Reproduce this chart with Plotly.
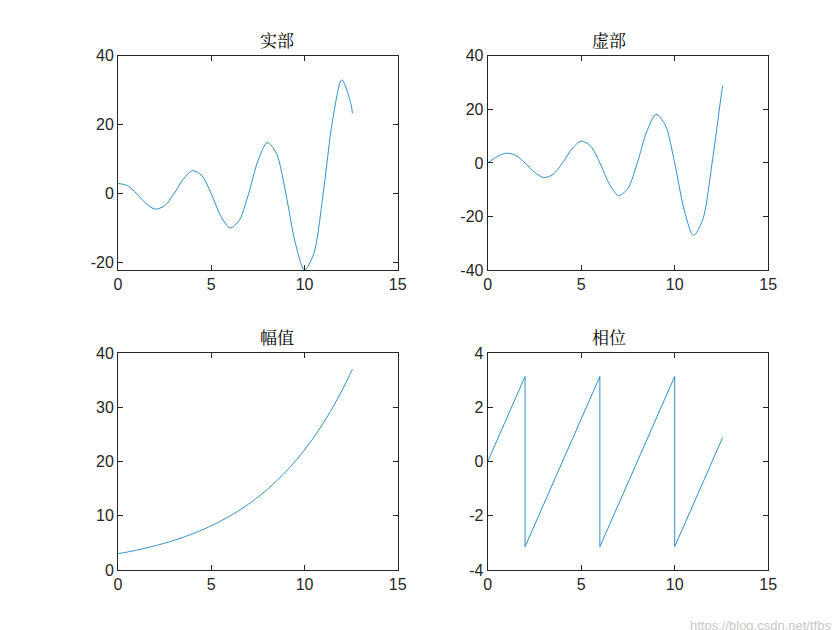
import plotly.graph_objects as go
from plotly.subplots import make_subplots

# sample times
t = [0, 0.5, 1, 1.5, 2, 2.5, 3, 3.5, 4, 4.5, 5, 5.5, 6, 6.5, 7, 7.5, 8, 8.5, 9,
     9.5, 10, 10.5, 11, 11.5, 12, 12.5, 12.566]
real_part = [3.000, 2.345, 0, -2.864, -4.475, -3.497, 0, 4.272, 6.677, 5.218, 0,
             -6.373, -9.960, -7.784, 0, 9.507, 14.859, 11.612, 0, -14.183, -22.167,
             -17.323, 0, 21.159, 33.070, 25.843, 23.3]
imag_part = [0, 2.345, 3.664, 2.864, 0, -3.497, -5.466, -4.272, 0, 5.218, 8.155,
             6.373, 0, -7.784, -12.166, -9.507, 0, 11.612, 18.149, 14.183, 0,
             -17.323, -27.075, -21.159, 0, 25.843, 28.8]
magnitude = [3.000, 3.316, 3.664, 4.050, 4.475, 4.946, 5.466, 6.041, 6.677, 7.379,
             8.155, 9.013, 9.960, 11.008, 12.166, 13.445, 14.859, 16.422, 18.149,
             20.058, 22.167, 24.499, 27.075, 29.923, 33.070, 36.548, 37.04]
phase_t = [0, 2, 2, 6, 6, 10, 10, 12.566]
phase = [0, 3.1416, -3.1416, 3.1416, -3.1416, 3.1416, -3.1416, 0.89]

titles = ["实部", "虚部", "幅值", "相位"]
ytick_sets = [[-20, 0, 20, 40], [-40, -20, 0, 20, 40], [0, 10, 20, 30, 40], [-4, -2, 0, 2, 4]]

fig = make_subplots(rows=2, cols=2)
blue = "#0072BD"
line = dict(color=blue, width=0.8, shape="spline", smoothing=0.8)
fig.add_trace(go.Scatter(x=t, y=real_part, mode="lines", line=line), 1, 1)
fig.add_trace(go.Scatter(x=t, y=imag_part, mode="lines", line=line), 1, 2)
fig.add_trace(go.Scatter(x=t, y=magnitude, mode="lines", line=line), 2, 1)
fig.add_trace(go.Scatter(x=phase_t, y=phase, mode="lines", line=dict(color=blue, width=0.8)), 2, 2)

xd = [[0.131, 0.464], [0.571, 0.905]]
yd = [[0.584, 0.924], [0.108, 0.452]]
yranges = [[-22.17, 40], [-40, 40], [0, 40], [-4, 4]]
axfmt = dict(showline=True, linecolor="#262626", linewidth=1, mirror="ticks",
             ticks="inside", ticklen=5, tickcolor="#262626", showgrid=False,
             zeroline=False, automargin=False,
             tickfont=dict(family="Liberation Sans, Arial", size=16, color="#262626"))
for i in range(4):
    r, c = i // 2 + 1, i % 2 + 1
    fig.update_xaxes(range=[0, 15], dtick=5, domain=xd[c - 1], row=r, col=c, **axfmt)
    fig.update_yaxes(range=yranges[i], tickvals=ytick_sets[i],
                     ticktext=[str(v) for v in ytick_sets[i]],
                     domain=yd[r - 1], row=r, col=c, **axfmt)
    fig.add_annotation(text=titles[i], x=sum(xd[c - 1]) / 2, y=yd[r - 1][1], xref="paper", yref="paper",
                       yanchor="bottom", showarrow=False, yshift=2,
                       font=dict(family="Noto Serif CJK SC, Noto Sans CJK SC", size=17, color="#000"))

fig.add_annotation(text="https://blog.csdn.net/tfbsy", x=0.99, y=0.005, xref="paper", yref="paper",
                   xanchor="right", yanchor="bottom", showarrow=False,
                   font=dict(family="Liberation Sans", size=13, color="#c8c8c8"))

fig.update_layout(width=840, height=630, margin=dict(l=0, r=0, t=0, b=0),
                  showlegend=False, plot_bgcolor="white", paper_bgcolor="white")
fig.write_html("out.html")
